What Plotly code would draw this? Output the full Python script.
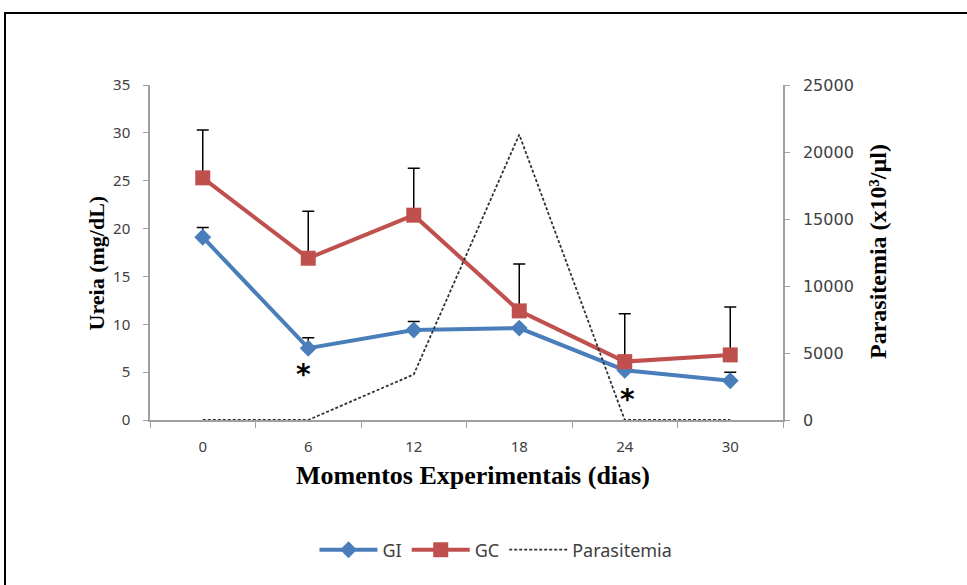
import plotly.graph_objects as go

days = ["0", "6", "12", "18", "24", "30"]
gi = [19.1, 7.5, 9.4, 9.6, 5.2, 4.1]
gi_err = [1.0, 1.1, 0.9, 0.0, 0.0, 0.9]
gc = [25.3, 16.9, 21.4, 11.4, 6.1, 6.8]
gc_err = [5.0, 4.9, 4.9, 4.9, 5.0, 5.0]
parasitemia = [0, 0, 3400, 21300, 0, 0]

W, H = 967, 585
L, R, T, B = 150, 783, 85, 420
pw, ph = R - L, B - T
def px(x):
    return (x - L) / pw
def py(y):
    return (B - y) / ph

tickfont = dict(family="Noto Sans", size=15, color="#404040")
tickfont2 = dict(family="DejaVu Sans", size=16, color="#404040")

fig = go.Figure()
fig.add_trace(go.Scatter(
    x=days, y=gi, name="GI", mode="lines+markers",
    line=dict(color="#4A7EBB", width=4),
    marker=dict(symbol="diamond", size=13, color="#4A7EBB"),
    error_y=dict(type="data", array=gi_err, arrayminus=[0]*6, symmetric=False,
                 color="#000000", thickness=1.5, width=6),
))
fig.add_trace(go.Scatter(
    x=days, y=gc, name="GC", mode="lines+markers",
    line=dict(color="#C0504D", width=4),
    marker=dict(symbol="square", size=15, color="#C0504D"),
    error_y=dict(type="data", array=gc_err, arrayminus=[0]*6, symmetric=False,
                 color="#000000", thickness=1.5, width=6),
))
fig.add_trace(go.Scatter(
    x=days, y=parasitemia, name="Parasitemia", mode="lines", yaxis="y2",
    line=dict(color="#333333", width=1.8, dash="3px,2px"),
))

fig.update_layout(
    width=W, height=H,
    margin=dict(l=L, r=W - R, t=T, b=H - B, pad=0),
    paper_bgcolor="white", plot_bgcolor="white",
    showlegend=True,
    legend=dict(orientation="h", x=px(496), y=py(550), xanchor="center", yanchor="middle",
                font=dict(family="Noto Sans", size=18, color="#404040"),
                itemwidth=58, traceorder="normal"),
    xaxis=dict(type="category", range=[-0.5, 5.5], tickson="boundaries",
               ticks="outside", ticklen=6, tickcolor="#A0A0A0",
               showline=True, linecolor="#A0A0A0", linewidth=2,
               showgrid=False, zeroline=False, tickfont=tickfont, ticklabelstandoff=12),
    yaxis=dict(range=[0, 35], dtick=5, ticks="outside", ticklen=5, tickcolor="#A0A0A0",
               showline=True, linecolor="#A0A0A0", linewidth=1.5,
               showgrid=False, zeroline=False, tickfont=tickfont, ticklabelstandoff=10),
    yaxis2=dict(range=[0, 25000], dtick=5000, tickformat="d", overlaying="y", side="right",
                ticks="outside", ticklen=5, tickcolor="#A0A0A0",
                showline=True, linecolor="#A0A0A0", linewidth=1.5,
                showgrid=False, zeroline=False, tickfont=tickfont2, ticklabelstandoff=10),
    annotations=[
        dict(text="<b>Ureia (mg/dL)</b>", xref="paper", yref="paper", x=px(81), y=py(263),
             textangle=-90, showarrow=False,
             font=dict(family="Liberation Serif", size=22, color="#000000")),
        dict(text="<b>Parasitemia (x10³/µl)</b>", xref="paper", yref="paper", x=px(893), y=py(252),
             textangle=-90, showarrow=False,
             font=dict(family="Liberation Serif", size=24, color="#000000")),
        dict(text="<b>Momentos Experimentais (dias)</b>", xref="paper", yref="paper",
             x=px(473), y=py(492), showarrow=False,
             font=dict(family="Liberation Serif", size=26, color="#000000")),
        dict(text="<b>*</b>", x=1, y=(B - 374) / ph * 35, xref="x", yref="y", showarrow=False,
             xshift=-5, font=dict(family="DejaVu Sans", size=28, color="#000000")),
        dict(text="<b>*</b>", x=4, y=(B - 399) / ph * 35, xref="x", yref="y", showarrow=False,
             xshift=3, font=dict(family="DejaVu Sans", size=28, color="#000000")),
    ],
    shapes=[
        dict(type="rect", xref="paper", yref="paper",
             x0=px(5), x1=px(990), y0=py(610), y1=py(13),
             line=dict(color="#000000", width=2), fillcolor="rgba(0,0,0,0)", layer="below"),
    ],
)

fig.write_html("out.html")
